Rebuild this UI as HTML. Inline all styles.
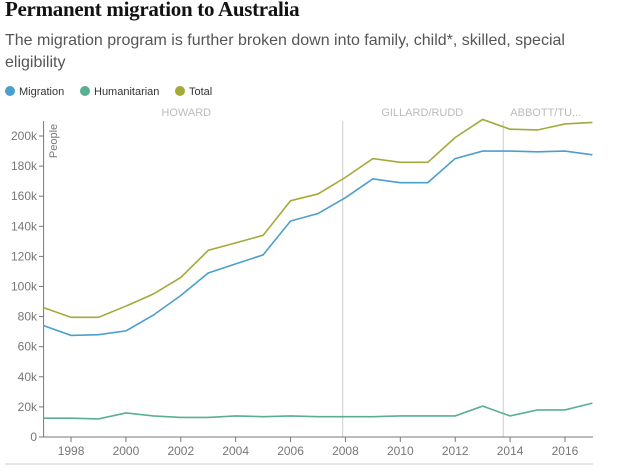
<!DOCTYPE html>
<html><head><meta charset="utf-8"><style>
body{margin:0;width:628px;height:470px;background:#fff;overflow:hidden;font-family:"Liberation Sans",sans-serif}
h1{position:absolute;left:5px;top:-3px;margin:0;font:bold 21px "Liberation Serif",serif;color:#121212;letter-spacing:-0.3px}
.sub{position:absolute;left:5px;top:30px;width:560px;font-size:16px;line-height:22px;color:#555}
.leg{position:absolute;top:86px;font-size:11px;color:#333}
.dot{display:inline-block;width:10px;height:10px;border-radius:50%;vertical-align:-1px;margin-right:4px}
</style></head><body>
<h1>Permanent migration to Australia</h1>
<div class="sub">The migration program is further broken down into family, child*, skilled, special eligibility</div>
<div class="leg" style="left:5px"><span class="dot" style="background:#4b9fcb"></span>Migration</div>
<div class="leg" style="left:80px"><span class="dot" style="background:#5aae93"></span>Humanitarian</div>
<div class="leg" style="left:175px"><span class="dot" style="background:#a3aa3a"></span>Total</div>
<svg id="c" width="628" height="470" style="position:absolute;left:0;top:0"></svg>
<script>
const years=[1997,1998,1999,2000,2001,2002,2003,2004,2005,2006,2007,2008,2009,2010,2011,2012,2013,2014,2015,2016,2017];
const migration=[74,67.5,68,70.5,81,94,109,115,121,143.5,148.5,159,171.5,169,169,185,190,190,189.5,190,187.5];
const humanitarian=[12.5,12.5,12,16,14,13,13,14,13.5,14,13.5,13.5,13.5,14,14,14,20.5,14,18,18,22.5];
const total=[86,79.5,79.5,87,95,106,124,129,134,157,161.5,172.5,185,182.5,182.5,199,211,204.5,204,208,209];
const yTicks=[0,20,40,60,80,100,120,140,160,180,200];
const xTicks=[1998,2000,2002,2004,2006,2008,2010,2012,2014,2016];
const eras=[{name:"HOWARD",x:2002.2},{name:"GILLARD/RUDD",x:2010.8},{name:"ABBOTT/TU...",x:2015.3}];
const eraLines=[2007.9,2013.75];
const X=v=>43.6+(v-1997)*27.44, Y=v=>437-v*1.505;
const s=document.getElementById('c'),NS="http://www.w3.org/2000/svg";
function mk(t,a,p){const e=document.createElementNS(NS,t);for(const k in a)e.setAttribute(k,a[k]);(p||s).appendChild(e);return e;}
let e;
e=mk('line',{x1:5,x2:593,y1:464,y2:464,stroke:'#e6e6e6','stroke-width':2});


eraLines.forEach(v=>{e=mk('line',{x1:X(v),x2:X(v),y1:121,y2:437,stroke:'#ccc','stroke-width':1});

});
eras.forEach(r=>{e=mk('text',{x:X(r.x),y:116,'text-anchor':'middle','font-size':11,fill:'#bbb'});e.textContent=r.name;

});
e=mk('line',{x1:43.6,x2:43.6,y1:121,y2:437,stroke:'#777'});


e=mk('line',{x1:43.6,x2:593,y1:437,y2:437,stroke:'#777'});


yTicks.forEach(v=>{mk('line',{x1:39,x2:43.6,y1:Y(v),y2:Y(v),stroke:'#777'});
e=mk('text',{x:37,y:Y(v)+4,'text-anchor':'end','font-size':12,fill:'#777'});e.textContent=v?v+'k':'0';

});
xTicks.forEach(v=>{mk('line',{x1:X(v),x2:X(v),y1:437,y2:442,stroke:'#777'});
e=mk('text',{x:X(v),y:455,'text-anchor':'middle','font-size':12,fill:'#777'});e.textContent=v;

});
e=mk('text',{transform:'translate(57,141) rotate(-90)','font-size':11,fill:'#777','text-anchor':'middle'});e.textContent='People';


[[total,'#a3aa3a','line-total'],[migration,'#4b9fcb','line-migration'],[humanitarian,'#5aae93','line-humanitarian']].forEach(([d,c,n])=>{
e=mk('polyline',{points:d.map((v,i)=>X(years[i])+','+Y(v)).join(' '),fill:'none',stroke:c,'stroke-width':1.6});

});
</script>
</body></html>
